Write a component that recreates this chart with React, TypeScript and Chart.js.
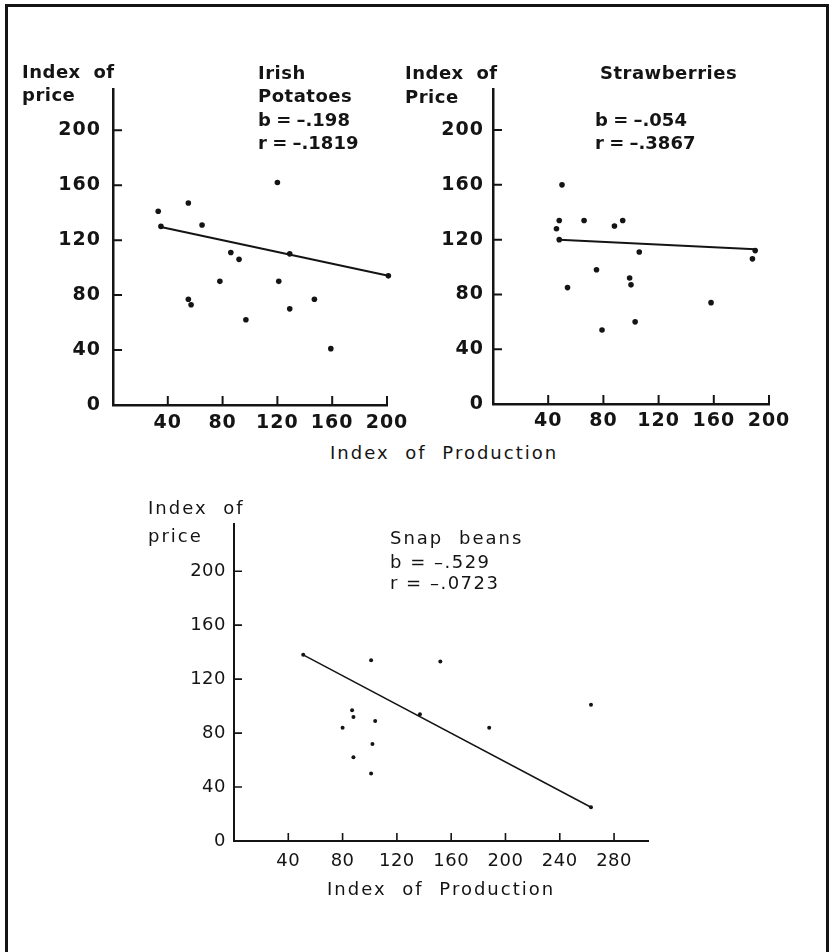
import React, { useEffect, useRef } from "react";
import { Chart, registerables } from "chart.js";

Chart.register(...registerables);

const INK = "#141414";
const FONT = '"DejaVu Sans", "Liberation Sans", sans-serif';

// ---- Irish Potatoes ----
const POTATO_PROD = [33, 35, 55, 65, 120, 203, 86, 92, 129, 78, 121, 55, 57, 129, 147, 97, 159, 201];
const POTATO_PRICE = [141, 130, 147, 131, 162, 148, 111, 106, 110, 90, 90, 77, 73, 70, 77, 62, 41, 94];
const POTATO_LINE_PROD = [35, 201];
const POTATO_LINE_PRICE = [129.5, 94];

// ---- Strawberries ----
const STRAW_PROD = [50, 48, 46, 48, 66, 88, 94, 106, 190, 188, 75, 99, 100, 54, 158, 103, 79];
const STRAW_PRICE = [160, 134, 128, 120, 134, 130, 134, 111, 112, 106, 98, 92, 87, 85, 74, 60, 54];
const STRAW_LINE_PROD = [48, 190];
const STRAW_LINE_PRICE = [120, 113];

// ---- Snap beans ----
const BEAN_PROD = [51, 101, 152, 263, 87, 88, 104, 80, 137, 188, 102, 88, 101, 263];
const BEAN_PRICE = [138, 134, 133, 101, 97, 92, 89, 84, 94, 84, 72, 62, 50, 25];
const BEAN_LINE_PROD = [51, 263];
const BEAN_LINE_PRICE = [138, 25];

// ---- tick labels ----
const PRICE_TICKS = [0, 40, 80, 120, 160, 200];
const PROD_TICKS_SMALL = [40, 80, 120, 160, 200];
const PROD_TICKS_WIDE = [40, 80, 120, 160, 200, 240, 280];

type Box = { left: number; top: number; width: number; height: number };
type Area = { left: number; top: number; right: number; bottom: number };

type PanelProps = {
  box: Box;
  area: Area;
  xMax: number;
  yMax: number;
  xTicks: number[];
  yTicks: number[];
  prod: number[];
  price: number[];
  lineProd: number[];
  linePrice: number[];
  bold: boolean;
  fontSize: number;
  pointRadius: number;
  lineWidth: number;
  axisWidth: number;
  tickLen: number;
  xPad: number;
  yPad: number;
  spacing: number;
};

function Panel(p: PanelProps) {
  const ref = useRef<HTMLCanvasElement | null>(null);
  useEffect(() => {
    const canvas = ref.current;
    if (!canvas) return;
    const yAxisWidth = p.area.left - p.box.left;
    const padTop = p.area.top - p.box.top;
    const xAxisHeight = p.box.top + p.box.height - p.area.bottom;
    const padRight = p.box.left + p.box.width - p.area.right;
    const tickFont = { family: FONT, size: p.fontSize, weight: p.bold ? "bold" : "normal" } as any;

    const inwardTicks = {
      id: "inwardTicks",
      beforeDraw(chart: any) {
        try {
          chart.ctx.letterSpacing = p.spacing + "px";
        } catch (e) {}
      },
      afterDraw(chart: any) {
        const { ctx, chartArea, scales } = chart;
        ctx.save();
        ctx.strokeStyle = INK;
        ctx.lineWidth = p.axisWidth * 0.8;
        ctx.beginPath();
        scales.x.ticks.forEach((t: any) => {
          const px = scales.x.getPixelForValue(t.value);
          ctx.moveTo(px, chartArea.bottom);
          ctx.lineTo(px, chartArea.bottom - p.tickLen);
        });
        scales.y.ticks.forEach((t: any) => {
          if (t.value === 0) return;
          const py = scales.y.getPixelForValue(t.value);
          ctx.moveTo(chartArea.left, py);
          ctx.lineTo(chartArea.left + p.tickLen, py);
        });
        ctx.stroke();
        ctx.restore();
      },
    };

    const chart = new Chart(canvas, {
      type: "scatter",
      data: {
        datasets: [
          {
            data: p.lineProd.map((x, i) => ({ x, y: p.linePrice[i] })),
            showLine: true,
            borderColor: INK,
            borderWidth: p.lineWidth,
            pointRadius: 0,
            fill: false,
            clip: false,
          } as any,
          {
            data: p.prod.map((x, i) => ({ x, y: p.price[i] })),
            backgroundColor: INK,
            borderWidth: 0,
            pointRadius: p.pointRadius,
            clip: false,
          } as any,
        ],
      },
      options: {
        animation: false,
        responsive: false,
        maintainAspectRatio: false,
        layout: { padding: { top: padTop, right: padRight, left: 0, bottom: 0 } },
        plugins: { legend: { display: false }, tooltip: { enabled: false } },
        scales: {
          x: {
            type: "linear",
            min: 0,
            max: p.xMax,
            afterBuildTicks: (s: any) => {
              s.ticks = p.xTicks.map((v) => ({ value: v }));
            },
            afterFit: (s: any) => {
              s.height = xAxisHeight;
            },
            grid: { display: false, drawTicks: false },
            border: { display: true, color: INK, width: p.axisWidth },
            ticks: {
              color: INK,
              font: tickFont,
              padding: p.xPad,
              autoSkip: false,
              maxRotation: 0,
              minRotation: 0,
            },
          },
          y: {
            type: "linear",
            min: 0,
            max: p.yMax,
            afterBuildTicks: (s: any) => {
              s.ticks = p.yTicks.map((v) => ({ value: v }));
            },
            afterFit: (s: any) => {
              s.width = yAxisWidth;
            },
            grid: { display: false, drawTicks: false },
            border: { display: true, color: INK, width: p.axisWidth },
            ticks: {
              color: INK,
              font: tickFont,
              padding: p.yPad,
              autoSkip: false,
            },
          },
        },
      } as any,
      plugins: [inwardTicks as any],
    });
    return () => chart.destroy();
  }, []);

  return (
    <canvas
      ref={ref}
      width={p.box.width}
      height={p.box.height}
      style={{
        position: "absolute",
        left: p.box.left,
        top: p.box.top,
        width: p.box.width,
        height: p.box.height,
      }}
    />
  );
}

const boldText: React.CSSProperties = {
  fontFamily: FONT,
  fontWeight: 700,
  fontSize: 18,
  letterSpacing: "0.5px",
  wordSpacing: "6px",
  color: INK,
};
const boldStat: React.CSSProperties = {
  ...boldText,
  letterSpacing: "0px",
  wordSpacing: "-1px",
};
const lightText: React.CSSProperties = {
  fontFamily: FONT,
  fontWeight: 400,
  fontSize: 18,
  letterSpacing: "2px",
  wordSpacing: "8px",
  color: INK,
};
const lightStat: React.CSSProperties = {
  ...lightText,
  letterSpacing: "1.5px",
  wordSpacing: "0px",
};

function Label(props: { text: string; left: number; cy: number; style: React.CSSProperties }) {
  return (
    <div
      style={{
        position: "absolute",
        left: props.left,
        top: props.cy - 11,
        height: 22,
        lineHeight: "22px",
        whiteSpace: "nowrap",
        ...props.style,
      }}
    >
      {props.text}
    </div>
  );
}

export default function App() {
  return (
    <div
      style={{
        position: "absolute",
        left: 0,
        top: 0,
        width: 832,
        height: 952,
        overflow: "hidden",
        background: "#fff",
      }}
    >
      <div
        style={{
          position: "absolute",
          left: 5,
          top: 4,
          width: 824,
          height: 970,
          border: `3px solid ${INK}`,
          boxSizing: "border-box",
        }}
      />
      <Panel
        box={{ left: 20, top: 65, width: 400, height: 375 }}
        area={{ left: 113, top: 89, right: 387, bottom: 405 }}
        xMax={200}
        yMax={230}
        xTicks={PROD_TICKS_SMALL}
        yTicks={PRICE_TICKS}
        prod={POTATO_PROD}
        price={POTATO_PRICE}
        lineProd={POTATO_LINE_PROD}
        linePrice={POTATO_LINE_PRICE}
        bold={true}
        fontSize={19}
        pointRadius={2.8}
        lineWidth={2}
        axisWidth={2.5}
        tickLen={9}
        xPad={7}
        yPad={12}
        spacing={1}
      />
      <Panel
        box={{ left: 420, top: 65, width: 405, height: 375 }}
        area={{ left: 493, top: 89, right: 769, bottom: 404 }}
        xMax={200}
        yMax={230}
        xTicks={PROD_TICKS_SMALL}
        yTicks={PRICE_TICKS}
        prod={STRAW_PROD}
        price={STRAW_PRICE}
        lineProd={STRAW_LINE_PROD}
        linePrice={STRAW_LINE_PRICE}
        bold={true}
        fontSize={19}
        pointRadius={2.8}
        lineWidth={2}
        axisWidth={2.5}
        tickLen={9}
        xPad={6}
        yPad={9}
        spacing={1}
      />
      <Panel
        box={{ left: 130, top: 500, width: 560, height: 400 }}
        area={{ left: 234, top: 524, right: 648, bottom: 841 }}
        xMax={305}
        yMax={235}
        xTicks={PROD_TICKS_WIDE}
        yTicks={PRICE_TICKS}
        prod={BEAN_PROD}
        price={BEAN_PRICE}
        lineProd={BEAN_LINE_PROD}
        linePrice={BEAN_LINE_PRICE}
        bold={false}
        fontSize={18}
        pointRadius={2}
        lineWidth={1.5}
        axisWidth={2}
        tickLen={8}
        xPad={10}
        yPad={8}
        spacing={0.5}
      />

      <Label text="Index of" left={22} cy={72} style={boldText} />
      <Label text="price" left={22} cy={95} style={boldText} />
      <Label text="Irish" left={258} cy={73} style={boldText} />
      <Label text="Potatoes" left={258} cy={96} style={boldText} />
      <Label text="b = –.198" left={258} cy={120} style={boldStat} />
      <Label text="r = –.1819" left={258} cy={143} style={boldStat} />

      <Label text="Index of" left={405} cy={73} style={boldText} />
      <Label text="Price" left={405} cy={97} style={boldText} />
      <Label text="Strawberries" left={600} cy={73} style={boldText} />
      <Label text="b = –.054" left={595} cy={120} style={boldStat} />
      <Label text="r = –.3867" left={595} cy={143} style={boldStat} />

      <Label text="Index of Production" left={330} cy={453} style={lightText} />

      <Label text="Index of" left={148} cy={508} style={lightText} />
      <Label text="price" left={148} cy={536} style={lightText} />
      <Label text="Snap beans" left={390} cy={538} style={lightText} />
      <Label text="b = –.529" left={390} cy={562} style={lightStat} />
      <Label text="r = –.0723" left={390} cy={583} style={lightStat} />

      <Label text="Index of Production" left={327} cy={889} style={lightText} />
    </div>
  );
}
